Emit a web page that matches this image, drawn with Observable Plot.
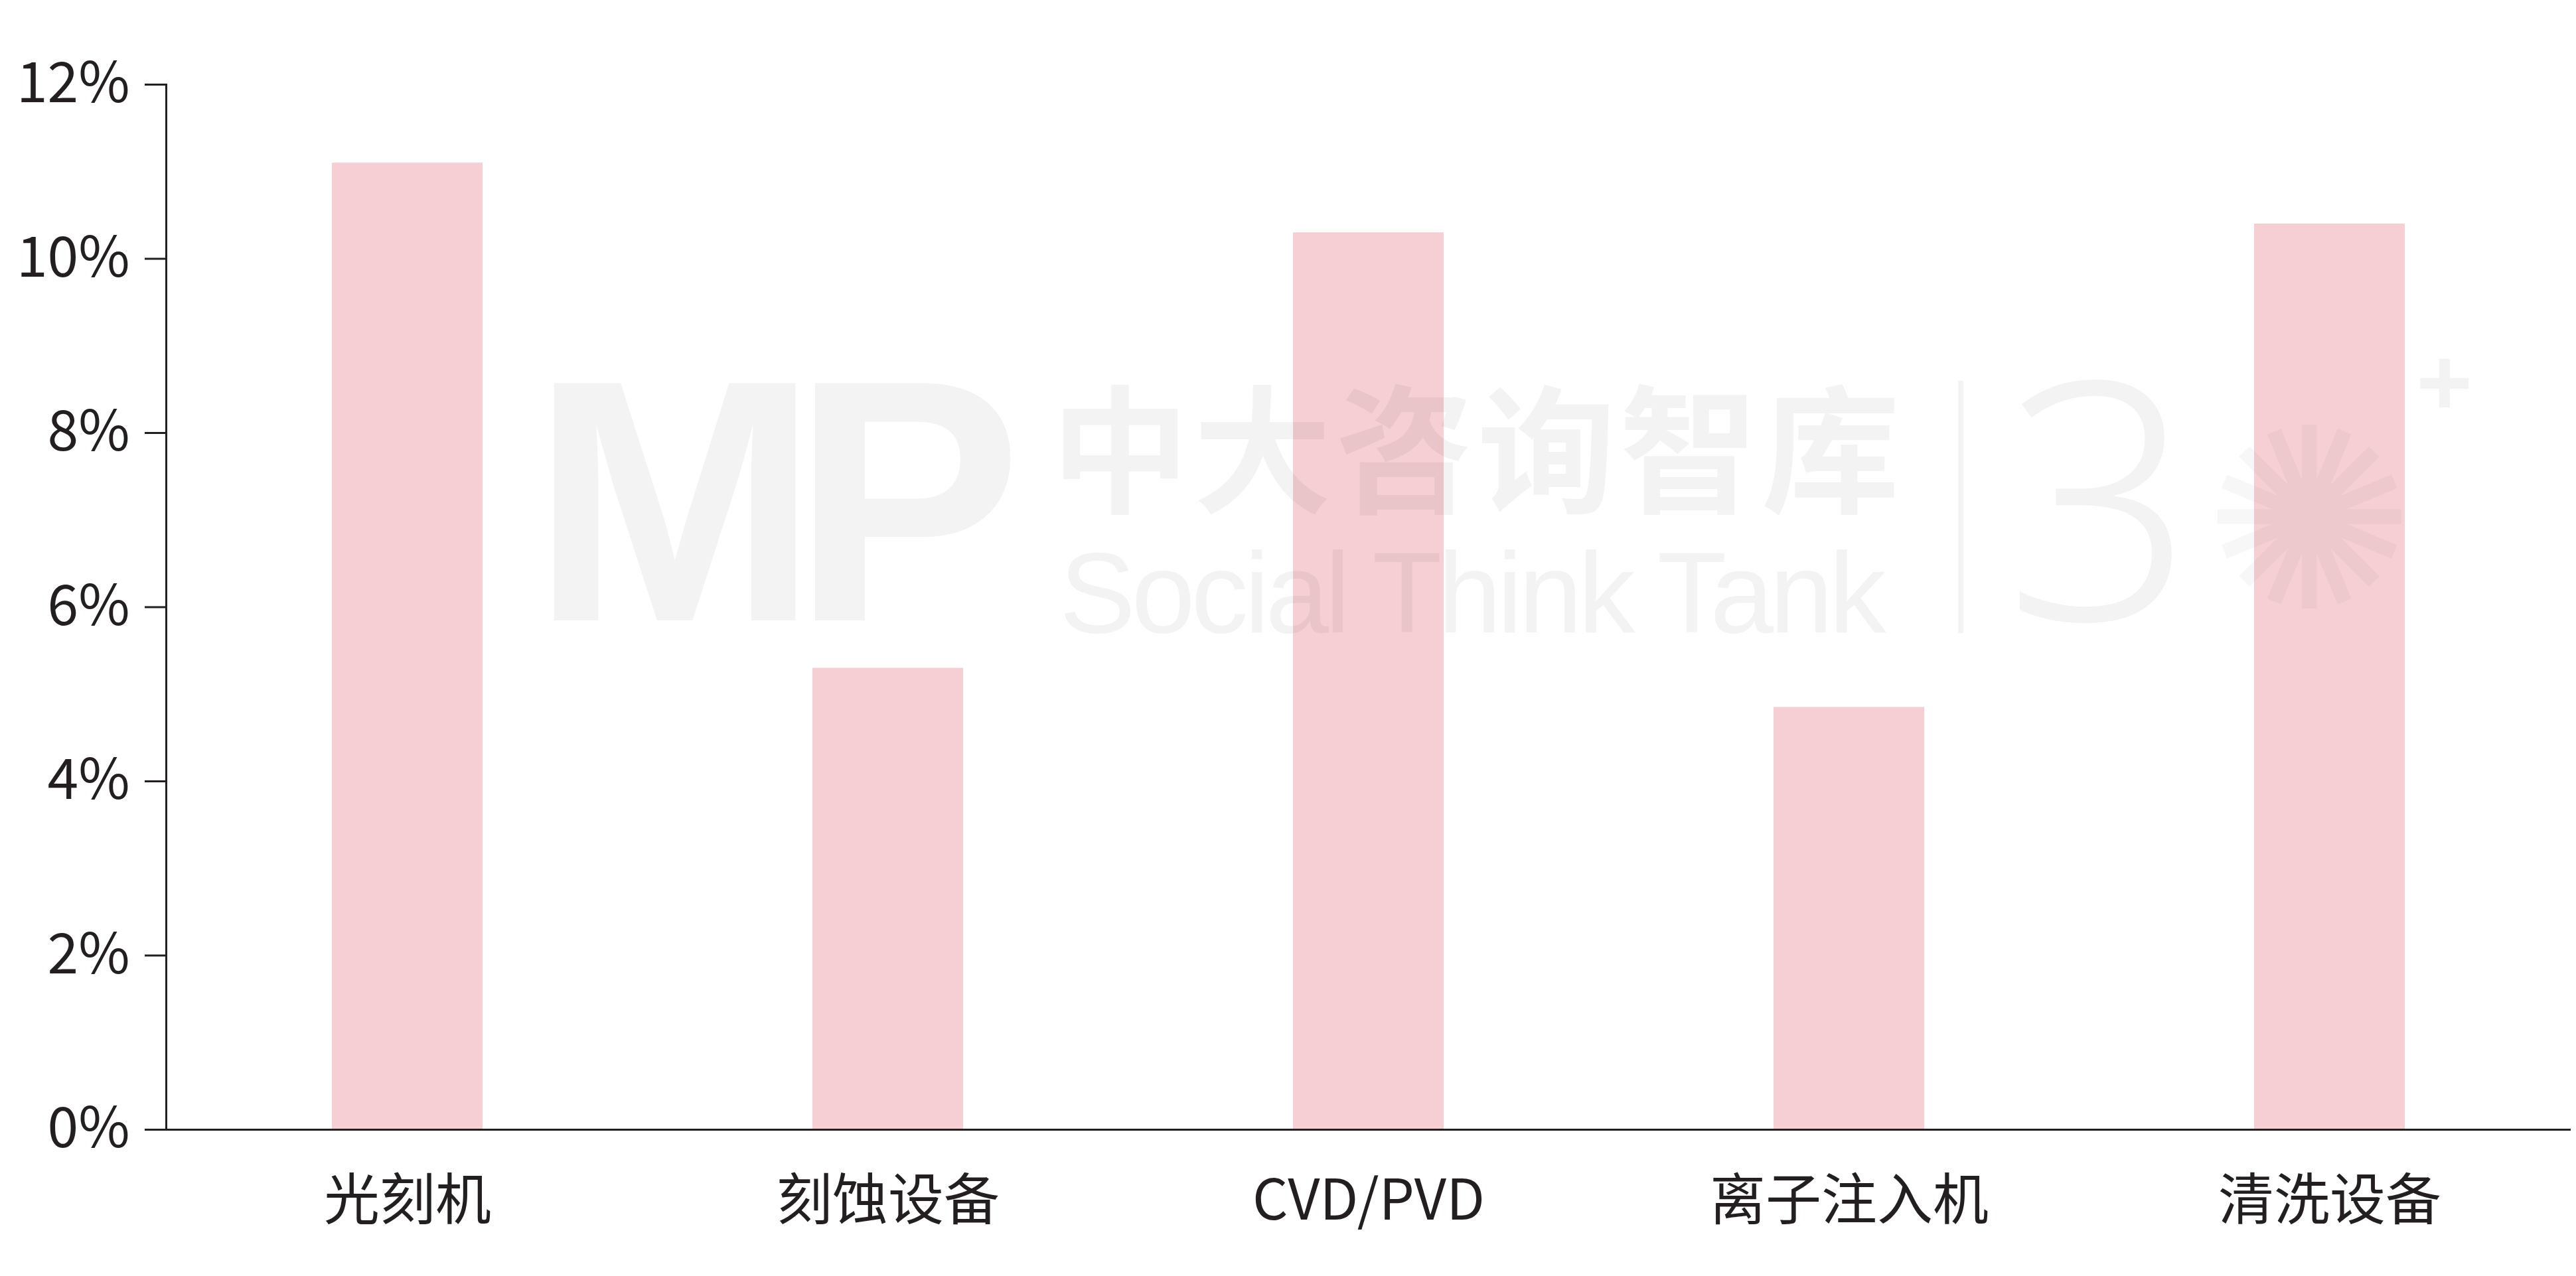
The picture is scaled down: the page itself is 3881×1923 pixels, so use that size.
<!DOCTYPE html>
<html>
<head>
<meta charset="utf-8">
<script src="https://cdn.jsdelivr.net/npm/d3@7"></script>
<script src="https://cdn.jsdelivr.net/npm/@observablehq/plot@0.6"></script>
<style>
  html, body { margin: 0; padding: 0; background: #ffffff; }
  #wrap { position: relative; width: 3881px; height: 1923px; }
  #chart { position: absolute; left: 0; top: 0; }
  .wm { position: absolute; color: #f3f3f3; white-space: nowrap; pointer-events: none; mix-blend-mode: multiply; font-family: "Noto Sans CJK SC", sans-serif; line-height: 0.85; }
</style>
</head>
<body>
<div id="wrap">
  <div id="chart"></div>
  <div class="wm" style="left:800px; top:560px; font-size:520px; font-weight:900; letter-spacing:-40px; line-height:0.75; font-family:'Liberation Sans', sans-serif;">MP</div>
  <div class="wm" style="left:1584px; top:581px; font-size:208px; letter-spacing:6px; font-weight:700; line-height:1; font-family:'Liberation Sans', 'Noto Sans CJK SC', sans-serif;">中大咨询智库</div>
  <div class="wm" style="left:1596px; top:807px; font-size:172px; letter-spacing:-6px; line-height:1; font-family:'Liberation Sans', sans-serif;">Social Think Tank</div>
  <div class="wm" style="left:2950px; top:574px; width:8px; height:380px; background:#f3f3f3;"></div>
  <div class="wm" style="left:3020px; top:540px; font-size:500px; font-weight:300; line-height:0.8; font-family:'Noto Sans', sans-serif;">3</div>
  <div class="wm" style="left:3320px; top:590px; font-size:380px; font-weight:300; color:#f7f7f7;">✺</div>
  <div class="wm" style="left:3640px; top:510px; font-size:150px; font-weight:700; font-family:'Noto Sans', sans-serif;">+</div>
</div>
<script>
const categories = ["光刻机", "刻蚀设备", "CVD/PVD", "离子注入机", "清洗设备"];
const values = [11.1, 5.3, 10.3, 4.85, 10.4];
const yTicks = [0, 2, 4, 6, 8, 10, 12];

const data = categories.map((c, i) => ({category: c, value: values[i]}));
const ink = "#231f20";

const chart = Plot.plot({
  width: 3881,
  height: 1923,
  marginLeft: 250,
  marginRight: 8,
  marginTop: 127,
  marginBottom: 221,
  style: {fontFamily: "'Noto Sans CJK SC', sans-serif", fontSize: "84px", color: ink, background: "transparent"},
  x: {domain: categories, paddingInner: 0.687, paddingOuter: 0.3435},
  y: {domain: [0, 12]},
  marks: [
    Plot.barY(data, {x: "category", y: "value", fill: "#f5cfd4"}),
    Plot.axisY({ticks: yTicks, tickFormat: d => d + "%", tickSize: 32, tickPadding: 23, stroke: ink, strokeWidth: 3, fill: ink, label: null, fontSize: 84}),
    Plot.axisX({tickSize: 0, tickPadding: 76, fill: ink, label: null, fontSize: 84}),
    Plot.frame({anchor: "left", stroke: ink, strokeWidth: 3}),
    Plot.ruleY([0], {stroke: ink, strokeWidth: 3})
  ]
});
document.getElementById("chart").appendChild(chart);
</script>
</body>
</html>
